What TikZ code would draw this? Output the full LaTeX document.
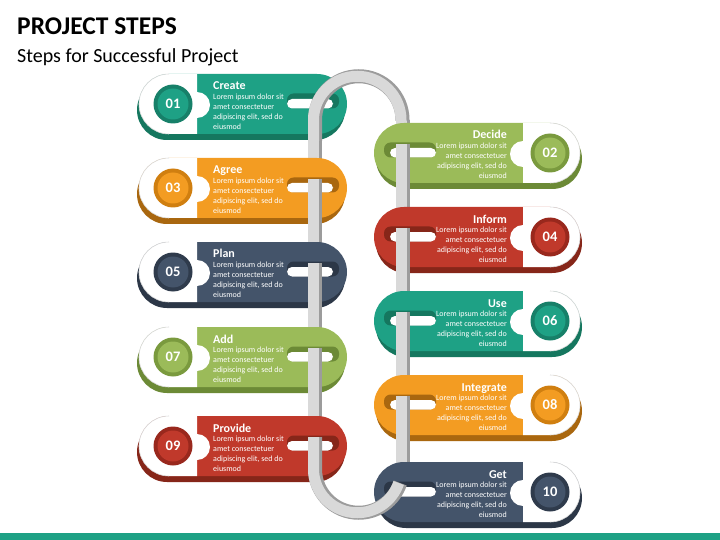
\documentclass[tikz,border=0pt]{standalone}
\usepackage{fontspec}
\setmainfont{Carlito}
\definecolor{cTeal}{HTML}{1EA185}
\definecolor{cTealD}{HTML}{15775F}
\definecolor{cTealR}{HTML}{178069}
\definecolor{cOrange}{HTML}{F39C22}
\definecolor{cOrangeD}{HTML}{A9670F}
\definecolor{cOrangeR}{HTML}{D07F10}
\definecolor{cNavy}{HTML}{44546A}
\definecolor{cNavyD}{HTML}{2C3747}
\definecolor{cNavyR}{HTML}{2F3B4C}
\definecolor{cGreen}{HTML}{9BBB59}
\definecolor{cGreenD}{HTML}{6C8A36}
\definecolor{cGreenR}{HTML}{7A9A3E}
\definecolor{cRed}{HTML}{C0392B}
\definecolor{cRedD}{HTML}{862619}
\definecolor{cRedR}{HTML}{99281D}
\definecolor{chainL}{HTML}{D9D9D9}
\definecolor{chainD}{HTML}{9C9C9C}
\tikzset{
  chaindk/.style={draw=chainD, line width=14pt},
  chainlt/.style={draw=chainL, line width=11pt, xshift=-1.5pt},
  ttl/.style={font=\fontsize{12}{13}\selectfont\bfseries, text=white, inner sep=0pt},
  bodytext/.style={font=\fontsize{8}{9.8}\selectfont, text=white, inner sep=0pt},
  num/.style={font=\fontsize{14.5}{15}\selectfont\bfseries, text=white, inner sep=0pt},
}
\newcommand\chainseg[1]{\draw[chaindk] #1; \draw[chainlt] #1;}
\newcommand\leftcard[4]{%
\begin{scope}[shift={(0,-#1)}]
  \fill[c#2D, rounded corners=30pt] (137,24) rectangle (345,-36);
  \fill[c#2, rounded corners=30pt] (139,30) rectangle (347,-30);
  \fill[white] (197,30) -- (169,30) arc (90:270:30pt) -- (197,-30) -- cycle;
  \fill[white] (197,-1) circle (13pt);
  \draw[black!15, line width=0.6pt] (169,30) arc (90:270:30pt);
  \fill[c#2R] (173,0) circle (19.5pt);
  \fill[c#2] (173,0) circle (15.5pt);
  \node[num] (n#3) at (173,0) {#3};
  \fill[c#2D, rounded corners=6.5pt] (287,10.5) rectangle (339,-4.5);
  \fill[white, rounded corners=5pt] (287,5) rectangle (333,-4.5);
  \node[ttl, anchor=base west] (t#3) at (213,14) {#4};
  \node[bodytext, anchor=north west, align=left] (b#3) at (213,9.8) {Lorem ipsum dolor sit\\amet consectetuer\\adipiscing elit, sed do\\eiusmod};
\end{scope}}
\newcommand\rightcard[4]{%
\begin{scope}[shift={(0,-#1)}]
  \fill[c#2D, rounded corners=30pt] (376,24) rectangle (582,-36);
  \fill[c#2, rounded corners=30pt] (374,30) rectangle (580,-30);
  \fill[white] (523,30) -- (550,30) arc (90:-90:30pt) -- (523,-30) -- cycle;
  \fill[white] (523,-1) circle (13pt);
  \draw[black!15, line width=0.6pt] (550,30) arc (90:-90:30pt);
  \fill[c#2R] (550,0) circle (19.5pt);
  \fill[c#2] (550,0) circle (15.5pt);
  \node[num] (n#3) at (550,0) {#3};
  \fill[c#2D, rounded corners=6.5pt] (384,10.5) rectangle (436,-4.5);
  \fill[white, rounded corners=5pt] (390,5) rectangle (436,-4.5);
  \node[ttl, anchor=base east] (t#3) at (507,14) {#4};
  \node[bodytext, anchor=north east, align=right] (b#3) at (507,9.8) {Lorem ipsum dolor sit\\amet consectetuer\\adipiscing elit, sed do\\eiusmod};
\end{scope}}
\begin{document}
\begin{tikzpicture}[x=1pt,y=1pt]
\useasboundingbox (0,0) rectangle (720,-540);
\fill[white] (0,0) rectangle (720,-540);
\fill[cTeal] (0,-533) rectangle (720,-540);
\node[anchor=base west, inner sep=0pt, font=\fontsize{25.5}{28}\selectfont\bfseries] (title) at (17,-35) {PROJECT STEPS};
\node[anchor=base west, inner sep=0pt, font=\fontsize{20}{24}\selectfont] (subtitle) at (17,-63) {Steps for Successful Project};
% chain, back layer
\chainseg{(315,-120) -- (315,-469)}
\chainseg{(402.5,-120) -- (402.5,-487)}
% cards
\leftcard{104}{Teal}{01}{Create}
\leftcard{188}{Orange}{03}{Agree}
\leftcard{272}{Navy}{05}{Plan}
\leftcard{357}{Green}{07}{Add}
\leftcard{446}{Red}{09}{Provide}
\rightcard{153}{Green}{02}{Decide}
\rightcard{237}{Red}{04}{Inform}
\rightcard{321}{Teal}{06}{Use}
\rightcard{405}{Orange}{08}{Integrate}
\rightcard{492}{Navy}{10}{Get}
% chain, front layer
\chainseg{(315,-141) -- (315,-120) arc (180:0:43.75pt) -- (402.5,-121)}
\chainseg{(315,-179) -- (315,-226)}
\chainseg{(315,-263) -- (315,-310)}
\chainseg{(315,-348) -- (315,-395)}
\chainseg{(315,-437) -- (315,-469) arc (180:341.3:43.75pt)}
\chainseg{(402.5,-144) -- (402.5,-191)}
\chainseg{(402.5,-228) -- (402.5,-275)}
\chainseg{(402.5,-312) -- (402.5,-359)}
\chainseg{(402.5,-396) -- (402.5,-443)}
\end{tikzpicture}
\end{document}
